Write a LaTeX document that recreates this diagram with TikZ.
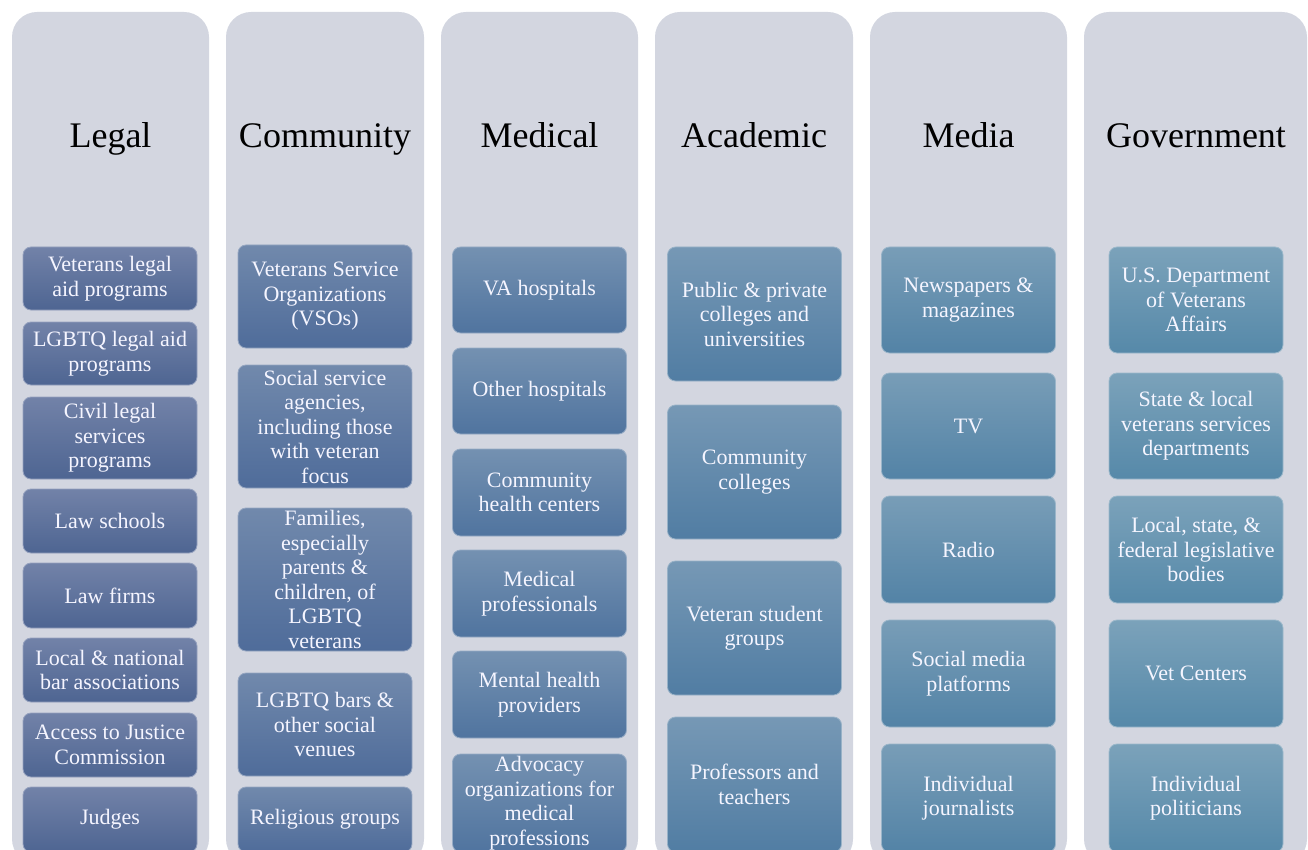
\documentclass[tikz,border=0pt]{standalone}
\usepackage{fontspec}
\setmainfont{Liberation Serif}

% 色の定義
\definecolor{colbg}{HTML}{D3D6E0}
\definecolor{legaltop}{HTML}{7282A8}
\definecolor{legalbot}{HTML}{4E6592}
\definecolor{commtop}{HTML}{7189AC}
\definecolor{commbot}{HTML}{4F6C9A}
\definecolor{medtop}{HTML}{7491B1}
\definecolor{medbot}{HTML}{50749F}
\definecolor{acadtop}{HTML}{7698B5}
\definecolor{acadbot}{HTML}{517DA3}
\definecolor{mediatop}{HTML}{789DB7}
\definecolor{mediabot}{HTML}{5383A6}
\definecolor{govtop}{HTML}{7BA2BA}
\definecolor{govbot}{HTML}{5689A9}

\tikzset{
  column/.style={fill=colbg, rounded corners=25pt},
  heading/.style={anchor=base, text=black, font=\fontsize{36}{40}\selectfont},
  item/.style={rounded corners=8pt, line width=0.8pt, minimum width=174pt,
    inner sep=0pt, align=center, text=white!96!blue,
    font=\fontsize{22}{24.5}\selectfont},
  legalbox/.style={item, top color=legaltop, bottom color=legalbot, draw=legaltop!75!white},
  commbox/.style={item, top color=commtop, bottom color=commbot, draw=commtop!75!white},
  medbox/.style={item, top color=medtop, bottom color=medbot, draw=medtop!75!white},
  acadbox/.style={item, top color=acadtop, bottom color=acadbot, draw=acadtop!75!white},
  mediabox/.style={item, top color=mediatop, bottom color=mediabot, draw=mediatop!75!white},
  govbox/.style={item, top color=govtop, bottom color=govbot, draw=govtop!75!white},
}

\begin{document}
\begin{tikzpicture}[x=1pt, y=-1pt]
  \useasboundingbox (0,0) rectangle (1308,850);
  \clip (0,0) rectangle (1308,850);
  % 列の背景
  \foreach \xa/\xb in {12/209, 226/424, 441/638, 655/853, 870/1067, 1084/1307}
    \fill[column] (\xa,12) rectangle (\xb,864);
  % 見出し
  \node[heading] (legal) at (110.5,148) {Legal};
  \node[heading] (community) at (325,148) {Community};
  \node[heading] (medical) at (539.5,148) {Medical};
  \node[heading] (academic) at (754,148) {Academic};
  \node[heading] (media) at (968.5,148) {Media};
  \node[heading] (government) at (1196,148) {Government};
  % Legal
  \node[legalbox, minimum height=63pt] (legal1) at (110,278.5) {Veterans legal\\aid programs};
  \node[legalbox, minimum height=63pt] (legal2) at (110,353.5) {LGBTQ legal aid\\programs};
  \node[legalbox, minimum height=82pt] (legal3) at (110,438) {Civil legal\\services\\programs};
  \node[legalbox, minimum height=64pt] (legal4) at (110,521) {Law schools};
  \node[legalbox, minimum height=65pt] (legal5) at (110,595.5) {Law firms};
  \node[legalbox, minimum height=64pt] (legal6) at (110,670) {Local \& national\\bar associations};
  \node[legalbox, minimum height=64pt] (legal7) at (110,745) {Access to Justice\\Commission};
  \node[legalbox, minimum height=65pt] (legal8) at (110,819.5) {Judges};
  % Community
  \node[commbox, minimum height=103pt] (comm1) at (325,296.5) {Veterans Service\\Organizations\\(VSOs)};
  \node[commbox, minimum height=123pt] (comm2) at (325,426.5) {Social service\\agencies,\\including those\\with veteran\\focus};
  \node[commbox, minimum height=143pt] (comm3) at (325,579.5) {Families,\\especially\\parents \&\\children, of\\LGBTQ\\veterans};
  \node[commbox, minimum height=103pt] (comm4) at (325,724.5) {LGBTQ bars \&\\other social\\venues};
  \node[commbox, minimum height=65pt] (comm5) at (325,819.5) {Religious groups};
  % Medical
  \node[medbox, minimum height=86pt] (med1) at (539.5,290) {VA hospitals};
  \node[medbox, minimum height=86pt] (med2) at (539.5,391) {Other hospitals};
  \node[medbox, minimum height=87pt] (med3) at (539.5,492.5) {Community\\health centers};
  \node[medbox, minimum height=87pt] (med4) at (539.5,593.5) {Medical\\professionals};
  \node[medbox, minimum height=87pt] (med5) at (539.5,694.5) {Mental health\\providers};
  \node[medbox, minimum height=98pt] (med6) at (539.5,803) {Advocacy\\organizations for\\medical\\professions};
  % Academic
  \node[acadbox, minimum height=134pt] (acad1) at (754.5,314) {Public \& private\\colleges and\\universities};
  \node[acadbox, minimum height=134pt] (acad2) at (754.5,472) {Community\\colleges};
  \node[acadbox, minimum height=134pt] (acad3) at (754.5,628) {Veteran student\\groups};
  \node[acadbox, minimum height=135pt] (acad4) at (754.5,784.5) {Professors and\\teachers};
  % Media
  \node[mediabox, minimum height=106pt] (media1) at (968.5,300) {Newspapers \&\\magazines};
  \node[mediabox, minimum height=106pt] (media2) at (968.5,426) {TV};
  \node[mediabox, minimum height=107pt] (media3) at (968.5,549.5) {Radio};
  \node[mediabox, minimum height=107pt] (media4) at (968.5,673.5) {Social media\\platforms};
  \node[mediabox, minimum height=108pt] (media5) at (968.5,798) {Individual\\journalists};
  % Government
  \node[govbox, minimum height=106pt] (gov1) at (1196,300) {U.S. Department\\of Veterans\\Affairs};
  \node[govbox, minimum height=106pt] (gov2) at (1196,426) {State \& local\\veterans services\\departments};
  \node[govbox, minimum height=107pt] (gov3) at (1196,549.5) {Local, state, \&\\federal legislative\\bodies};
  \node[govbox, minimum height=107pt] (gov4) at (1196,673.5) {Vet Centers};
  \node[govbox, minimum height=108pt] (gov5) at (1196,798) {Individual\\politicians};
\end{tikzpicture}
\end{document}
